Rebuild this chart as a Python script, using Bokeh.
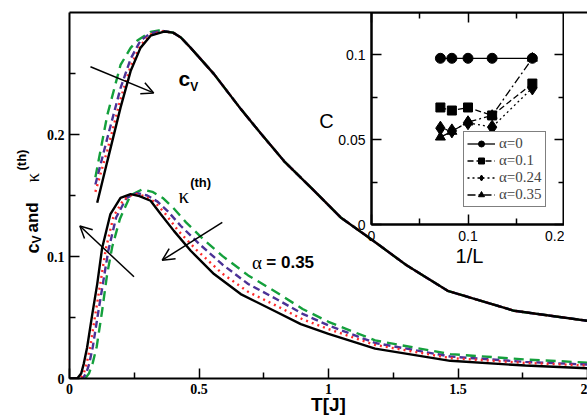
from bokeh.plotting import figure
from bokeh.models import (Range1d, LinearAxis, Label, Arrow, OpenHead, Legend,
                          LegendItem, FixedTicker)
from bokeh.embed import file_html
from bokeh.resources import INLINE

# ---------------- main panel data ----------------
# specific heat c_V, rising parts (4 curves) + common tail
cv_black_T = [0.107, 0.146, 0.197, 0.236, 0.274, 0.313, 0.365]
cv_black = [0.144, 0.178, 0.222, 0.252, 0.271, 0.281, 0.2844]
cv_red_T = [0.100, 0.146, 0.197, 0.236, 0.274, 0.313, 0.360]
cv_red = [0.153, 0.187, 0.229, 0.256, 0.273, 0.282, 0.2846]
cv_purple_T = [0.100, 0.146, 0.197, 0.236, 0.274, 0.313, 0.355]
cv_purple = [0.159, 0.197, 0.238, 0.262, 0.277, 0.283, 0.285]
cv_green_T = [0.100, 0.146, 0.197, 0.236, 0.262, 0.313, 0.345]
cv_green = [0.165, 0.216, 0.257, 0.271, 0.277, 0.284, 0.2852]
cv_tail_T = [0.40, 0.43, 0.468, 0.558, 0.661, 0.738, 0.829, 0.944, 1.047,
             1.166, 1.30, 1.46, 1.717, 2.0]
cv_tail = [0.2835, 0.2795, 0.271, 0.2495, 0.221, 0.201, 0.178, 0.154, 0.132,
           0.114, 0.093, 0.0719, 0.0555, 0.0473]

# thermal conductivity kappa^(th)
k_black_T = [0.0, 0.03, 0.045, 0.055, 0.068, 0.088, 0.107, 0.126, 0.158, 0.197,
             0.236, 0.27, 0.313, 0.352, 0.403, 0.468, 0.558, 0.661, 0.79, 0.893,
             1.0, 1.18, 1.47, 1.76, 2.0]
k_black = [0.0, 0.0, 0.004, 0.012, 0.0254, 0.0528, 0.0774, 0.107, 0.1348, 0.148,
           0.1511, 0.1495, 0.1457, 0.1348, 0.121, 0.1047, 0.0856, 0.0692, 0.0555,
           0.0446, 0.0365, 0.0245, 0.0145, 0.0106, 0.0084]
k_red_T = [0.0, 0.04, 0.055, 0.066, 0.08, 0.1, 0.12, 0.14, 0.17, 0.21, 0.25,
           0.29, 0.33, 0.37, 0.42, 0.49, 0.59, 0.69, 0.8, 0.9, 1.0, 1.18, 1.47,
           1.76, 2.0]
k_red = [0.0, 0.0, 0.004, 0.012, 0.026, 0.053, 0.079, 0.106, 0.133, 0.147,
         0.1515, 0.1495, 0.1445, 0.135, 0.121, 0.1055, 0.086, 0.071, 0.0595,
         0.0485, 0.0405, 0.0275, 0.0167, 0.0128, 0.0106]
k_purple_T = [0.0, 0.05, 0.064, 0.076, 0.09, 0.11, 0.13, 0.15, 0.18, 0.22, 0.26,
              0.30, 0.34, 0.38, 0.43, 0.50, 0.59, 0.69, 0.8, 0.9, 1.0, 1.18,
              1.47, 1.76, 2.0]
k_purple = [0.0, 0.0, 0.004, 0.012, 0.026, 0.053, 0.079, 0.105, 0.132, 0.148,
            0.152, 0.150, 0.145, 0.137, 0.125, 0.1105, 0.0935, 0.0775, 0.065,
            0.053, 0.0435, 0.0291, 0.018, 0.0136, 0.0114]
k_green_T = [0.0, 0.06, 0.075, 0.09, 0.105, 0.125, 0.145, 0.165, 0.195, 0.235,
             0.28, 0.32, 0.36, 0.40, 0.45, 0.52, 0.59, 0.69, 0.8, 0.9, 1.0, 1.18,
             1.47, 1.76, 2.0]
k_green = [0.0, 0.0, 0.004, 0.013, 0.026, 0.054, 0.085, 0.108, 0.131, 0.150,
           0.155, 0.153, 0.148, 0.140, 0.128, 0.1135, 0.1005, 0.0845, 0.0705,
           0.057, 0.0465, 0.0312, 0.020, 0.0156, 0.013]

x_ticks = [0, 0.5, 1, 1.5, 2]
x_tick_labels = ["0", "0.5", "1", "1.5", "2"]
y_ticks = [0, 0.1, 0.2]
y_tick_labels = ["0", "0.1", "0.2"]

# ---------------- inset data ----------------
inv_L = [0.0714, 0.0833, 0.1, 0.125, 0.1667]
C_a0 = [0.098, 0.098, 0.098, 0.098, 0.098]
C_a01 = [0.069, 0.0672, 0.069, 0.0643, 0.0831]
C_a024 = [0.0568, 0.0552, 0.0600, 0.0574, 0.0805]
C_a035 = [0.0515, 0.0549, 0.0604, 0.0643, 0.098]
legend_labels = ["α=0", "α=0.1", "α=0.24", "α=0.35"]
inset_x_ticks = [0, 0.1, 0.2]
inset_x_labels = ["0", "0.1", "0.2"]
inset_y_ticks = [0, 0.05, 0.1]
inset_y_labels = ["0", "0.05", "0.1"]

BLACK = "#000000"
RED = "#ff2a2a"
PURPLE = "#4b3296"
GREEN = "#14a03c"
SERIF = "Liberation Serif"
SANS = "Liberation Sans"

W, H = 587, 417

# ---------------- main figure ----------------
p = figure(width=W, height=H, x_range=Range1d(0, 2), y_range=Range1d(0, 0.3),
           output_backend="svg", toolbar_location=None,
           min_border_left=69, min_border_right=0, min_border_top=12,
           min_border_bottom=39)
p.outline_line_color = None
p.grid.visible = False
p.background_fill_color = "white"
p.border_fill_color = "white"

pb = p.below[0]
pl = p.left[0]
for ax in (pb, pl):
    ax.axis_line_width = 2
    ax.major_tick_in = 10
    ax.major_tick_out = 0
    ax.minor_tick_in = 6
    ax.minor_tick_out = 0
    ax.major_tick_line_width = 1.5
    ax.minor_tick_line_width = 1.5
    ax.major_label_text_font = SERIF
    ax.major_label_text_font_style = "bold"
    ax.major_label_text_font_size = "14px"
    ax.major_label_text_color = "black"
    ax.major_label_standoff = 5
pb.ticker = FixedTicker(ticks=x_ticks, minor_ticks=[0.25, 0.75, 1.25, 1.75])
pl.ticker = FixedTicker(ticks=y_ticks, minor_ticks=[0.05, 0.15, 0.25])
pb.major_label_overrides = dict(zip(x_ticks, x_tick_labels))
pl.major_label_overrides = dict(zip(y_ticks, y_tick_labels))

top = LinearAxis(ticker=FixedTicker(ticks=[]), axis_line_width=2,
                 major_tick_in=0, major_tick_out=0, minor_tick_in=0, minor_tick_out=0,
                 major_label_text_color=None, major_label_text_font_size="1px",
                 major_label_standoff=0)
p.add_layout(top, "above")

dash_g = "10 6"
dash_p = "7 4"
dash_r = "2 4"
lw = 2.4

p.line(cv_green_T + cv_tail_T, cv_green + cv_tail, line_color=GREEN, line_width=lw, line_dash=dash_g)
p.line(cv_purple_T + cv_tail_T, cv_purple + cv_tail, line_color=PURPLE, line_width=lw, line_dash=dash_p)
p.line(cv_red_T + cv_tail_T, cv_red + cv_tail, line_color=RED, line_width=lw, line_dash=dash_r)
p.line(cv_black_T + cv_tail_T, cv_black + cv_tail, line_color=BLACK, line_width=lw)

p.line(k_green_T, k_green, line_color=GREEN, line_width=lw, line_dash=dash_g)
p.line(k_purple_T, k_purple, line_color=PURPLE, line_width=lw, line_dash=dash_p)
p.line(k_red_T, k_red, line_color=RED, line_width=lw, line_dash=dash_r)
p.line(k_black_T, k_black, line_color=BLACK, line_width=lw)

# arrows
for (xs, ys, xe, ye) in [(0.081, 0.2555, 0.325, 0.2341),
                         (0.249, 0.0834, 0.040, 0.1250),
                         (0.590, 0.1279, 0.358, 0.0970)]:
    p.add_layout(Arrow(end=OpenHead(size=12, line_width=1.5, line_color="black"),
                       x_start=xs, y_start=ys, x_end=xe, y_end=ye,
                       line_width=1.5, line_color="black"))


def lab(fig, x, y, text, font=SANS, size="16px", style="bold", angle=0,
        align="left", baseline="alphabetic"):
    fig.add_layout(Label(x=x, y=y, text=text, text_font=font, text_font_size=size,
                         text_font_style=style, angle=angle, text_align=align,
                         text_baseline=baseline, text_color="black"))


# in-plot texts
lab(p, 0.421, 0.2457, "c", size="21px")
lab(p, 0.466, 0.2391, "V", size="12px")
lab(p, 0.421, 0.1498, "κ", font=SERIF, size="21px", style="normal")
lab(p, 0.466, 0.1610, "(th)", size="13px")
lab(p, 0.705, 0.0948, "α", font=SERIF, size="19px", style="normal")
lab(p, 0.760, 0.0948, "= 0.35", size="17px")

# ---------------- inset figure ----------------
q = figure(width=254, height=252, x_range=Range1d(0, 0.2), y_range=Range1d(0, 0.125),
           output_backend="svg", toolbar_location=None,
           min_border_left=61, min_border_right=0, min_border_top=0,
           min_border_bottom=40)
q.grid.visible = False
q.outline_line_color = "black"
q.outline_line_width = 2
q.background_fill_color = "white"
q.border_fill_color = None
q.border_fill_alpha = 0

qb = q.below[0]
ql = q.left[0]
qb.ticker = FixedTicker(ticks=inset_x_ticks, minor_ticks=[0.05, 0.15])
ql.ticker = FixedTicker(ticks=inset_y_ticks, minor_ticks=[0.025, 0.075])
qb.major_label_overrides = dict(zip(inset_x_ticks, inset_x_labels))
ql.major_label_overrides = dict(zip(inset_y_ticks, inset_y_labels))
qr = LinearAxis(ticker=FixedTicker(ticks=inset_y_ticks, minor_ticks=[0.025, 0.075]),
                major_label_text_color=None, major_label_text_font_size="1px",
                major_label_standoff=0)
qt = LinearAxis(ticker=FixedTicker(ticks=inset_x_ticks, minor_ticks=[0.05, 0.15]),
                major_label_text_color=None, major_label_text_font_size="1px",
                major_label_standoff=0)
q.add_layout(qr, "right")
q.add_layout(qt, "above")
for ax in (qb, ql, qr, qt):
    ax.axis_line_width = 2
    ax.major_tick_in = 10
    ax.major_tick_out = 0
    ax.minor_tick_in = 6
    ax.minor_tick_out = 0
    ax.major_tick_line_width = 1.5
    ax.minor_tick_line_width = 1.5
for ax in (qb, ql):
    ax.major_label_text_font = SANS
    ax.major_label_text_font_style = "normal"
    ax.major_label_text_font_size = "14px"
    ax.major_label_text_color = "black"
    ax.major_label_standoff = 6

ilw = 1.3
l4 = q.line(inv_L, C_a035, line_color="black", line_width=ilw, line_dash="8 3 2 3")
m4 = q.scatter(inv_L, C_a035, marker="triangle", size=10, color="black")
l3 = q.line(inv_L, C_a024, line_color="black", line_width=ilw, line_dash="2 3")
m3 = q.scatter(inv_L, C_a024, marker="diamond", size=14, color="black")
l2 = q.line(inv_L, C_a01, line_color="black", line_width=ilw, line_dash="6 3")
m2 = q.scatter(inv_L, C_a01, marker="square", size=9, color="black")
l1 = q.line(inv_L, C_a0, line_color="black", line_width=ilw)
m1 = q.scatter(inv_L, C_a0, marker="circle", size=10, color="black")

legend = Legend(items=[LegendItem(label=legend_labels[0], renderers=[l1, m1]),
                       LegendItem(label=legend_labels[1], renderers=[l2, m2]),
                       LegendItem(label=legend_labels[2], renderers=[l3, m3]),
                       LegendItem(label=legend_labels[3], renderers=[l4, m4])],
                location=(92, 17), border_line_color="black", border_line_width=1,
                background_fill_color="white", background_fill_alpha=1,
                label_text_font=SERIF, label_text_font_size="15px",
                glyph_width=28, glyph_height=15, label_height=15, label_standoff=4,
                spacing=0, padding=3, margin=0)
q.add_layout(legend)

# ---------------- overlay for texts outside the frames (page pixels) -------
t = figure(width=W, height=H, x_range=Range1d(0, W), y_range=Range1d(H, 0),
           output_backend="svg", toolbar_location=None,
           x_axis_type=None, y_axis_type=None, min_border=0)
t.grid.visible = False
t.outline_line_color = None
t.background_fill_color = None
t.background_fill_alpha = 0
t.border_fill_color = None
t.border_fill_alpha = 0

A = 1.5708
lab(t, 328, 404, "T[J]", size="19px", align="center")
lab(t, 32, 253, "c", size="18px", angle=A)
lab(t, 36, 243, "V", size="12px", angle=A)
lab(t, 32, 232, "and", size="17px", angle=A)
lab(t, 32, 182, "κ", font=SERIF, size="19px", style="normal", angle=A)
lab(t, 21, 170, "(th)", size="13px", angle=A)
lab(t, 326, 120, "C", size="20px", style="normal", align="center", baseline="middle")
lab(t, 469, 255, "1/L", size="20px", style="normal", align="center", baseline="middle")

t.styles = {"position": "absolute", "left": "0px", "top": "0px"}
q.styles = {"position": "absolute", "left": "310px", "top": "12px"}

open("out.html", "w").write(file_html([p, t, q], INLINE))
